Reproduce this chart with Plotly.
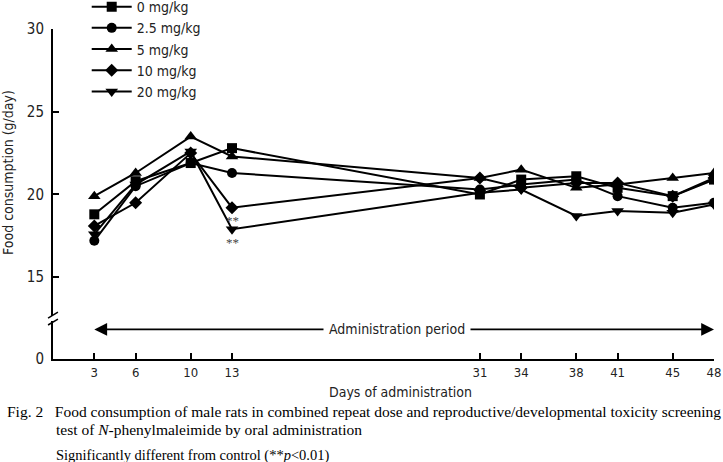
import plotly.graph_objects as go

days = [3, 6, 10, 13, 31, 34, 38, 41, 45, 48]
dose_names = ["0 mg/kg", "2.5 mg/kg", "5 mg/kg", "10 mg/kg", "20 mg/kg"]
food_0 = [18.8, 20.8, 21.9, 22.8, 20.0, 20.9, 21.1, 20.4, 19.9, 20.9]
food_2_5 = [17.2, 20.5, 21.9, 21.3, 20.3, 20.6, 20.9, 19.9, 19.2, 19.5]
food_5 = [19.9, 21.3, 23.5, 22.3, 21.0, 21.5, 20.4, 20.6, 21.0, 21.3]
food_10 = [18.1, 19.5, 22.5, 19.2, 21.0, 20.4, 20.7, 20.7, 19.9, 21.0]
food_20 = [17.6, 20.6, 22.6, 17.9, 20.1, 20.3, 18.7, 19.0, 18.9, 19.4]
symbols = ["square", "circle", "triangle-up", "diamond", "triangle-down"]
marker_sizes = [10, 10, 11, 10, 11]
series = [food_0, food_2_5, food_5, food_10, food_20]

x_ticks = days
y_ticks = [15, 20, 25, 30]
sig_day = 13
sig_values = [food_10[3], food_20[3]]

SANS = "Liberation Sans Narrow, DejaVu Sans Condensed, sans-serif"
SERIF = "Liberation Serif, Times New Roman, serif"
TXT = "#222222"

fig = go.Figure()
for name, vals, sym, ms in zip(dose_names, series, symbols, marker_sizes):
    fig.add_trace(go.Scatter(
        x=days, y=vals, name=name, mode="lines+markers",
        line=dict(color="black", width=2),
        marker=dict(symbol=sym, size=ms, color="black"),
        xaxis="x", yaxis="y",
    ))

# significance marks
for v in sig_values:
    fig.add_annotation(x=sig_day, y=v, xref="x", yref="y", text="**",
                       showarrow=False, yshift=-13,
                       font=dict(family=SERIF, size=13, color="#444444"))

# administration period arrows (in lower axis coords)
arrow_y = 0.78
mid_day = 25
for end in (days[0], days[-1]):
    fig.add_annotation(x=end, y=arrow_y, xref="x", yref="y2",
                       ax=mid_day, ay=arrow_y, axref="x", ayref="y2",
                       text="", showarrow=True, arrowhead=2, arrowsize=1.6,
                       arrowwidth=1.6, arrowcolor="black")
fig.add_annotation(x=mid_day, y=arrow_y, xref="x", yref="y2",
                   text=" Administration period ", showarrow=False,
                   bgcolor="white", font=dict(family=SANS, size=14, color=TXT))

# x axis title
fig.add_annotation(x=0.526, y=-0.10, xref="paper", yref="paper",
                   text="Days of administration", showarrow=False,
                   yanchor="middle", font=dict(family=SANS, size=14, color=TXT))

# captions
fig.add_annotation(x=-0.0725, y=-0.158, xref="paper", yref="paper", xanchor="left",
                   yanchor="middle", showarrow=False,
                   text="Fig. 2&nbsp;&nbsp;&nbsp;Food consumption of male rats in combined repeat dose and reproductive/developmental toxicity screening",
                   font=dict(family=SERIF, size=15.5, color="black"))
fig.add_annotation(x=0.0015, y=-0.215, xref="paper", yref="paper", xanchor="left",
                   yanchor="middle", showarrow=False,
                   text="test of <i>N</i>-phenylmaleimide by oral administration",
                   font=dict(family=SERIF, size=15.5, color="black"))
fig.add_annotation(x=0.0015, y=-0.291, xref="paper", yref="paper", xanchor="left",
                   yanchor="middle", showarrow=False,
                   text="Significantly different from control (**<i>p</i>&lt;0.01)",
                   font=dict(family=SERIF, size=14.5, color="black"))

# axis break marks
for (y0, y1) in [(0.124, 0.142), (0.103, 0.121)]:
    fig.add_shape(type="line", xref="paper", yref="paper",
                  x0=-0.0075, y0=y0, x1=0.0075, y1=y1,
                  line=dict(color="black", width=1.5))

fig.update_layout(
    width=723, height=462,
    margin=dict(l=53, r=9, t=29, b=103, autoexpand=False),
    paper_bgcolor="white", plot_bgcolor="white",
    showlegend=True,
    legend=dict(x=0.051, y=1.115, xanchor="left", yanchor="top",
                bgcolor="rgba(0,0,0,0)", font=dict(family=SANS, size=14, color=TXT),
                itemwidth=40),
    xaxis=dict(range=[0, 48], tickvals=x_ticks, ticks="inside", ticklen=6,
               tickwidth=1.5, tickcolor="black", showline=True, linecolor="black",
               linewidth=2, showgrid=False, zeroline=False, anchor="y2",
               ticklabeloverflow="allow",
               tickfont=dict(family=SANS, size=13, color=TXT)),
    yaxis=dict(domain=[0.13, 1], range=[12.65, 30], tickvals=y_ticks,
               ticks="inside", ticklen=6, tickwidth=1.5, tickcolor="black",
               showline=True, linecolor="black", linewidth=2, showgrid=False,
               zeroline=False, anchor="x", ticklabelstandoff=4,
               title=dict(text="Food consumption (g/day)", standoff=12,
                          font=dict(family=SANS, size=14, color=TXT)),
               tickfont=dict(family=SANS, size=15, color=TXT)),
    yaxis2=dict(domain=[0, 0.115], range=[0, 1], tickvals=[0], ticks="",
                showline=True, linecolor="black", linewidth=2, showgrid=False,
                zeroline=False, anchor="x", ticklabelstandoff=4,
                tickfont=dict(family=SANS, size=15, color=TXT)),
)

fig.write_html("out.html", config={"displayModeBar": False},
               post_script="document.body.style.margin='0';document.body.style.padding='0';")
